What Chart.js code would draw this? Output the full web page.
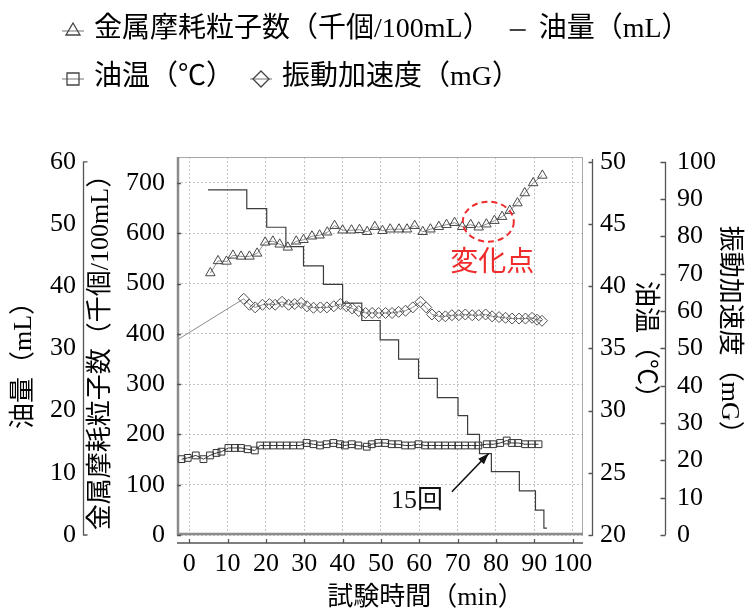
<!DOCTYPE html>
<html>
<head>
<meta charset="utf-8">
<script src="https://cdn.jsdelivr.net/npm/chart.js@4.4.1/dist/chart.umd.min.js"></script>
<style>html,body{margin:0;padding:0;background:#fff;}canvas{display:block;}</style>
</head>
<body>
<canvas id="c" width="748" height="615"></canvas>
<script>
// ---------------- data ----------------
const seriesNames = ['金属摩耗粒子数（千個/100mL）', '油量（mL）', '油温（℃）', '振動加速度（mG）'];

const particleTime  = [5.5, 7.5, 9.7, 11.4, 13.5, 15.7, 17.7, 19.8, 21.8, 23.6, 25.7, 27.9, 29.8, 32.0, 34.0, 36.0, 37.9, 40.0, 42.3, 44.4, 46.4, 48.4, 50.4, 52.4, 54.7, 56.8, 58.8, 60.9, 62.9, 65.1, 67.1, 69.2, 71.2, 73.4, 75.5, 77.5, 79.6, 81.6, 83.6, 85.6, 87.5, 89.7, 92.1];
const particleCount = [521, 545, 544, 556, 554, 554, 560, 582, 584, 578, 572, 584, 587, 594, 596, 602, 615, 606, 606, 607, 603, 613, 605, 608, 608, 608, 615, 603, 608, 613, 617, 621, 613, 617, 612, 618, 625, 633, 645, 660, 680, 700, 715];

const oilTime   = [4.9, 15.0, 20.2, 25.2, 29.8, 35.0, 40.0, 45.0, 49.8, 54.6, 59.8, 64.7, 70.1, 72.6, 75.7, 78.8, 86.1, 90.3, 92.5, 93.3];
const oilVolume = [55.5, 52.5, 49.5, 46.4, 43.3, 40.3, 37.3, 34.5, 31.4, 28.3, 25.2, 22.1, 19.2, 16.2, 13.1, 10.2, 7.1, 4.0, 1.1, 1.1];

const tempTime = [-2.0, -0.4, 1.7, 3.7, 5.4, 7.1, 8.4, 10.2, 11.9, 13.5, 15.2, 17.1, 18.5, 20.2, 21.9, 23.7, 25.4, 27.1, 28.9, 30.6, 32.4, 34.1, 35.8, 37.6, 39.3, 40.6, 42.4, 44.1, 46.3, 47.6, 49.3, 51.1, 52.8, 54.5, 56.3, 58.0, 59.8, 61.5, 63.2, 65.0, 66.7, 68.5, 70.2, 71.9, 73.7, 75.4, 77.6, 79.3, 81.1, 82.8, 84.1, 85.8, 87.6, 89.3, 91.1];
const oilTemp  = [26.1, 26.2, 26.4, 26.1, 26.4, 26.6, 26.7, 27.0, 27.0, 27.0, 26.9, 26.8, 27.2, 27.2, 27.2, 27.2, 27.2, 27.2, 27.2, 27.4, 27.3, 27.2, 27.3, 27.4, 27.3, 27.2, 27.3, 27.2, 27.1, 27.3, 27.4, 27.4, 27.3, 27.3, 27.2, 27.2, 27.3, 27.2, 27.2, 27.2, 27.2, 27.2, 27.2, 27.2, 27.2, 27.2, 27.3, 27.3, 27.4, 27.6, 27.4, 27.4, 27.3, 27.3, 27.3];

const vibTime  = [-3.1, 14.2, 15.7, 17.2, 19.1, 20.9, 22.4, 24.2, 25.9, 27.5, 29.2, 30.7, 32.4, 34.2, 35.9, 37.7, 39.4, 41.0, 42.5, 44.2, 46.0, 47.7, 49.4, 51.2, 52.9, 54.6, 56.4, 58.3, 60.3, 61.8, 63.3, 65.1, 66.8, 68.5, 70.3, 72.0, 73.8, 75.5, 77.3, 79.0, 80.8, 82.5, 84.2, 86.0, 87.7, 89.4, 90.7, 92.0];
const vibAccel = [52.3, 63.3, 61.7, 61.0, 61.7, 61.9, 61.7, 62.5, 61.7, 61.9, 62.2, 61.3, 60.9, 61.0, 61.0, 61.3, 61.9, 61.3, 60.7, 60.0, 59.5, 59.5, 59.5, 59.5, 59.5, 59.8, 60.1, 61.0, 62.5, 61.0, 59.1, 58.6, 58.6, 58.9, 58.9, 59.1, 58.9, 58.9, 59.1, 58.6, 58.4, 58.2, 58.0, 58.0, 58.0, 58.2, 57.7, 57.4];

const xTickValues        = [0, 10, 20, 30, 40, 50, 60, 70, 80, 90, 100];
const particleTickValues = [0, 100, 200, 300, 400, 500, 600, 700];
const oilTickValues      = [0, 10, 20, 30, 40, 50, 60];
const tempTickValues     = [20, 25, 30, 35, 40, 45, 50];
const vibTickValues      = [0, 10, 20, 30, 40, 50, 60, 70, 80, 90, 100];

const xTitle        = '試験時間（min）';
const particleTitle = '金属摩耗粒子数（千個/100mL）';
const oilTitle      = '油量（mL）';
const tempTitle     = '油温（℃）';
const vibTitle      = '振動加速度（mG）';

const changeLabel = '変化点';
const countLabel  = '15回';
// annotation anchors in data units: [time, particle count]
const changePoint  = [78.0, 623];
const changeText   = [79.0, 546];
const countText    = [59.4, 68];
const arrowFrom    = [68.5, 86];
const arrowTo      = [78.1, 162];

// ---------------- helpers ----------------
const FONT = "'Liberation Serif', 'Noto Sans CJK JP', serif";
Chart.defaults.font.family = FONT;
Chart.defaults.font.size = 26;
Chart.defaults.color = '#000';

const pts = (xs, ys) => xs.map((x, i) => ({x: x, y: ys[i]}));
const fixedTicks = vals => (s => { s.ticks = vals.map(v => ({value: v})); });

function marker(kind) {
  const c = document.createElement('canvas');
  c.width = 24; c.height = 20;
  const g = c.getContext('2d');
  const cx = 12, cy = 10;
  if (kind === 'dash') {
    g.strokeStyle = '#444'; g.lineWidth = 2;
    g.beginPath(); g.moveTo(4, cy); g.lineTo(20, cy); g.stroke();
    return c;
  }
  g.strokeStyle = '#8a8a8a'; g.lineWidth = 1.2;
  g.beginPath(); g.moveTo(1, cy + 1); g.lineTo(23, cy + 1); g.stroke();
  g.strokeStyle = '#444'; g.lineWidth = 1.3;
  g.beginPath();
  if (kind === 'tri') { g.moveTo(cx, cy - 7); g.lineTo(cx + 7, cy + 5); g.lineTo(cx - 7, cy + 5); g.closePath(); }
  if (kind === 'sq')  { g.rect(cx - 6, cy - 5, 12, 12); }
  if (kind === 'dia') { g.moveTo(cx, cy - 7); g.lineTo(cx + 8, cy + 1); g.lineTo(cx, cy + 9); g.lineTo(cx - 8, cy + 1); g.closePath(); }
  g.stroke();
  return c;
}
const legendMarkers = [marker('tri'), marker('dash'), marker('sq'), marker('dia')];

// ---------------- decoration plugin ----------------
const decor = {
  id: 'decor',
  beforeLayout(chart) {
    const lg = chart.legend;
    if (lg && !lg.__fixed) {
      const fit = lg.fit;
      lg.fit = function () { fit.call(this); this.height = 157; };
      lg.__fixed = true;
    }
  },
  afterLayout(chart) {
    const lg = chart.legend;
    if (lg) { lg.left = 46; lg.top = -4; }
  },
  beforeDatasetsDraw(chart) {
    const {ctx, chartArea: a, scales} = chart;
    const sx = scales.x, sP = scales.yP, sO = scales.yO, sT = scales.yT, sV = scales.yV;
    ctx.save();
    // plot frame
    ctx.strokeStyle = '#a8a8a8'; ctx.lineWidth = 1;
    ctx.strokeRect(a.left + 0.5, a.top + 0.5, a.right - a.left - 1, a.bottom - a.top - 1);
    ctx.strokeStyle = '#8c8c8c'; ctx.lineWidth = 2.5;
    ctx.beginPath(); ctx.moveTo(a.left + 1, a.top); ctx.lineTo(a.left + 1, a.bottom - 1); ctx.lineTo(a.right, a.bottom - 1); ctx.stroke();

    ctx.strokeStyle = '#555'; ctx.lineWidth = 1.3;
    // particle axis ticks (inside)
    ctx.beginPath();
    sP.ticks.forEach(t => { const y = Math.round(sP.getPixelForValue(t.value)) + 0.5; ctx.moveTo(a.left, y); ctx.lineTo(a.left + 4, y); });
    ctx.stroke();
    // x axis (offset below)
    const xy = a.bottom + 8;
    ctx.beginPath(); ctx.moveTo(a.left, xy); ctx.lineTo(a.right, xy);
    sx.ticks.forEach(t => { const x = Math.round(sx.getPixelForValue(t.value)) + 0.5; ctx.moveTo(x, xy); ctx.lineTo(x, xy - 4); });
    ctx.stroke();
    // oil volume axis (outer left)
    const ox = 83.5;
    const oTop = sO.getPixelForValue(oilTickValues[oilTickValues.length - 1]), oBot = sO.getPixelForValue(oilTickValues[0]);
    ctx.beginPath(); ctx.moveTo(ox + 4, oTop); ctx.lineTo(ox, oTop); ctx.lineTo(ox, oBot); ctx.lineTo(ox + 4, oBot); ctx.stroke();
    // oil temperature axis (inner right)
    const tx = a.right + 9.5;
    ctx.beginPath();
    ctx.moveTo(tx, sT.getPixelForValue(tempTickValues[tempTickValues.length - 1]) - 3);
    ctx.lineTo(tx, sT.getPixelForValue(tempTickValues[0]) + 1);
    sT.ticks.forEach(t => { const y = Math.round(sT.getPixelForValue(t.value)) + 0.5; ctx.moveTo(tx, y); ctx.lineTo(tx - 4, y); });
    ctx.stroke();
    // vibration axis (outer right)
    const vx = 665.5;
    ctx.beginPath();
    ctx.moveTo(vx, sV.getPixelForValue(vibTickValues[vibTickValues.length - 1]));
    ctx.lineTo(vx, sV.getPixelForValue(vibTickValues[0]));
    sV.ticks.forEach(t => { const y = Math.round(sV.getPixelForValue(t.value)) + 0.5; ctx.moveTo(vx, y); ctx.lineTo(vx - 5, y); });
    ctx.stroke();
    ctx.restore();
  },
  afterDatasetsDraw(chart) {
    const {ctx, scales} = chart;
    const sx = scales.x, sP = scales.yP;
    const P = p => [sx.getPixelForValue(p[0]), sP.getPixelForValue(p[1])];
    ctx.save();
    // change point ellipse
    const [ex, ey] = P(changePoint);
    ctx.strokeStyle = '#f02b2b'; ctx.lineWidth = 2; ctx.setLineDash([6, 4]);
    ctx.beginPath(); ctx.ellipse(ex, ey, 25.5, 20, 0, 0, Math.PI * 2); ctx.stroke();
    ctx.setLineDash([]);
    ctx.fillStyle = '#f02b2b'; ctx.textAlign = 'center'; ctx.textBaseline = 'middle';
    ctx.font = "28px 'Noto Sans CJK JP'";
    const [cx, cy] = P(changeText);
    ctx.fillText(changeLabel, cx, cy);
    // 15th sampling label + arrow
    ctx.fillStyle = '#111';
    ctx.font = "26px " + FONT;
    const [nx, ny] = P(countText);
    ctx.fillText(countLabel, nx, ny);
    const [x1, y1] = P(arrowFrom), [x2, y2] = P(arrowTo);
    ctx.strokeStyle = '#111'; ctx.lineWidth = 1.6;
    ctx.beginPath(); ctx.moveTo(x1, y1); ctx.lineTo(x2, y2); ctx.stroke();
    const ang = Math.atan2(y2 - y1, x2 - x1), L = 11, W = 4;
    ctx.beginPath();
    ctx.moveTo(x2, y2);
    ctx.lineTo(x2 - L * Math.cos(ang) + W * Math.sin(ang), y2 - L * Math.sin(ang) - W * Math.cos(ang));
    ctx.lineTo(x2 - L * Math.cos(ang) - W * Math.sin(ang), y2 - L * Math.sin(ang) + W * Math.cos(ang));
    ctx.closePath(); ctx.fill();
    ctx.restore();
  }
};

// ---------------- chart ----------------
const yCommon = (width, pad, titleText, titlePad, tickVals) => ({
  afterBuildTicks: fixedTicks(tickVals),
  afterFit: s => { s.width = width; },
  grid: {drawOnChartArea: false, drawTicks: false},
  border: {display: false},
  ticks: {padding: pad, autoSkip: false, color: '#000', font: {size: 26}},
  title: {display: true, text: titleText, color: '#000', font: {size: 26}, padding: {top: titlePad, bottom: 0}}
});

new Chart(document.getElementById('c'), {
  type: 'line',
  data: {
    datasets: [
      {
        label: seriesNames[0], yAxisID: 'yP', data: pts(particleTime, particleCount),
        borderColor: '#8c8c8c', borderWidth: 1, tension: 0,
        pointStyle: 'triangle', pointRadius: 5.5, pointBorderColor: '#474747', pointBorderWidth: 1,
        pointBackgroundColor: 'rgba(255,255,255,0)'
      },
      {
        label: seriesNames[1], yAxisID: 'yO', data: pts(oilTime, oilVolume),
        borderColor: '#3c3c3c', borderWidth: 1.2, stepped: true, pointRadius: 0
      },
      {
        label: seriesNames[2], yAxisID: 'yT', data: pts(tempTime, oilTemp),
        borderColor: '#333', borderWidth: 1, tension: 0,
        pointStyle: 'rect', pointRadius: 4.8, pointBorderColor: '#333', pointBorderWidth: 1,
        pointBackgroundColor: 'rgba(255,255,255,0)'
      },
      {
        label: seriesNames[3], yAxisID: 'yV', data: pts(vibTime, vibAccel),
        borderColor: '#8c8c8c', borderWidth: 1, tension: 0,
        pointStyle: 'rectRot', pointRadius: c => (c.dataIndex === 0 ? 0 : 5.5), pointBorderColor: '#505050', pointBorderWidth: 1,
        pointBackgroundColor: 'rgba(255,255,255,0)'
      }
    ]
  },
  options: {
    responsive: false, animation: false, devicePixelRatio: 1, events: [],
    layout: {padding: 0},
    plugins: {
      tooltip: {enabled: false},
      legend: {
        display: true, position: 'top', align: 'start',
        labels: {
          usePointStyle: true, boxWidth: 14, boxHeight: 14, padding: 20, color: '#000', font: {size: 28},
          generateLabels: () => seriesNames.map((name, i) => ({
            text: name, pointStyle: legendMarkers[i], fillStyle: '#fff', strokeStyle: '#444',
            lineWidth: 0, hidden: false, datasetIndex: i, fontColor: '#000'
          }))
        }
      }
    },
    scales: {
      x: {
        type: 'linear', position: 'bottom', min: -3.2, max: 102.7,
        afterBuildTicks: fixedTicks(xTickValues),
        afterFit: s => { s.height = 80; },
        grid: {color: '#c4c4c4', lineWidth: 1, drawTicks: false},
        border: {display: false, dash: [2, 2]},
        ticks: {padding: 14, autoSkip: false, maxRotation: 0, color: '#000', font: {size: 26}},
        title: {display: true, text: '\u3000\u3000\u3000  ' + xTitle, color: '#000', font: {size: 26}, padding: {top: 0, bottom: 1}}
      },
      yP: Object.assign(yCommon(94, 12, particleTitle, 3, particleTickValues), {
        type: 'linear', position: 'left', weight: 0, min: 0, max: 751.6,
        grid: {color: '#c4c4c4', lineWidth: 1, drawTicks: false},
        border: {display: false, dash: [2, 2]}
      }),
      yO: Object.assign(yCommon(83, 7, oilTitle + '\u3000  ', 9, oilTickValues), {
        type: 'linear', position: 'left', weight: 1, min: 0, max: 60.8
      }),
      yT: Object.assign(yCommon(82, 17, tempTitle, 5, tempTickValues), {
        type: 'linear', position: 'right', weight: 0, min: 20, max: 50.4
      }),
      yV: Object.assign(yCommon(83, 12, vibTitle + '\u3000 ', 4, vibTickValues), {
        type: 'linear', position: 'right', weight: 1, min: 0, max: 101.3
      })
    }
  },
  plugins: [decor]
});
</script>
</body>
</html>
